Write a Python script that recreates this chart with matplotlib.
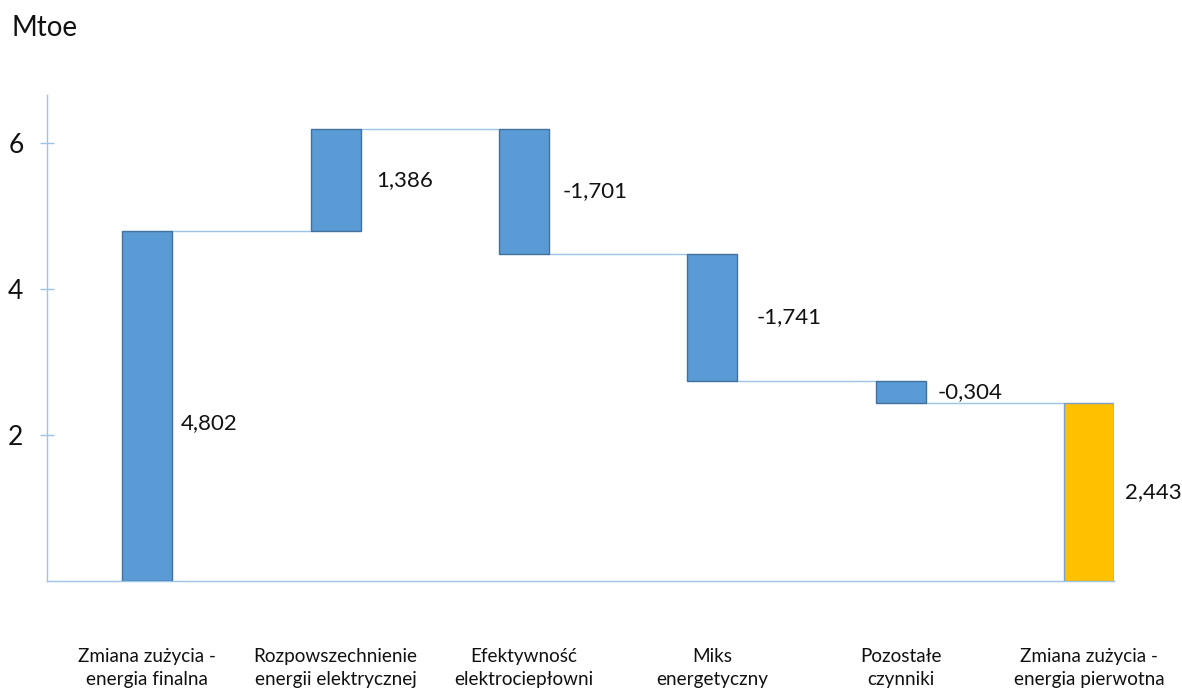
import matplotlib
matplotlib.use("Agg")
import matplotlib.pyplot as plt
import matplotlib.transforms as mtransforms

plt.rcParams['font.family'] = ['Lato', 'DejaVu Sans']

categories = [
    "Zmiana zużycia -\nenergia finalna",
    "Rozpowszechnienie\nenergii elektrycznej",
    "Efektywność\nelektrociepłowni",
    "Miks\nenergetyczny",
    "Pozostałe\nczynniki",
    "Zmiana zużycia -\nenergia pierwotna",
]
changes = [4.802, 1.386, -1.701, -1.741, -0.304]
total = 2.443
value_labels = ["4,802", "1,386", "-1,701", "-1,741", "-0,304", "2,443"]
yticks = [2, 4, 6]

BLUE = "#5B9BD5"
BLUE_EDGE = "#41719C"
GOLD = "#FFC000"
GOLD_EDGE = "#7F9FC8"
LINE = "#9DC3E6"

fig = plt.figure(figsize=(11.82, 6.88), dpi=100)
ax = fig.add_axes([47 / 1182, 107 / 688, 1067 / 1182, 486 / 688])

width = 0.266
x = list(range(len(categories)))

# running totals for the floating bars
bottoms, tops = [], []
level = 0.0
for c in changes:
    start, end = level, level + c
    bottoms.append(min(start, end))
    tops.append(max(start, end))
    level = end

heights = [t - b for t, b in zip(tops, bottoms)]
ax.bar(x[:5], heights, bottom=bottoms, width=width, color=BLUE,
       edgecolor=BLUE_EDGE, linewidth=1.0, zorder=3)
ax.bar(x[5], total, bottom=0, width=width, color=GOLD,
       edgecolor=GOLD_EDGE, linewidth=1.0, zorder=3)

# connector lines between consecutive bars
level = 0.0
for i, c in enumerate(changes):
    level += c
    ax.plot([x[i] + width / 2, x[i + 1] - width / 2], [level, level],
            color=LINE, linewidth=1.0, zorder=2)

# value labels beside each bar
label_frac = [0.45, 0.5, 0.5, 0.5, 0.5, 0.5]
all_bottoms = bottoms + [0.0]
all_heights = heights + [total]
offsets = [0.045, 0.085, 0.075, 0.105, 0.065, 0.06]
for i, txt in enumerate(value_labels):
    yv = all_bottoms[i] + all_heights[i] * label_frac[i]
    ax.text(x[i] + width / 2 + offsets[i], yv, txt, ha="left", va="center",
            fontsize=16, color="#111111", clip_on=False)

ax.set_xlim(-0.532, 5 + width / 2)
ax.set_ylim(0, 6.66)
ax.set_yticks(yticks)
ax.set_yticklabels([str(v) for v in yticks], fontsize=19)
ax.set_xticks([])

for s in ["top", "right"]:
    ax.spines[s].set_visible(False)
for s in ["left", "bottom"]:
    ax.spines[s].set_color(LINE)
    ax.spines[s].set_linewidth(1.0)
ax.tick_params(axis="y", direction="inout", length=10, width=1.0,
               color=LINE, pad=12, labelcolor="#111111")

# category names under the axis
trans = mtransforms.blended_transform_factory(ax.transData, fig.transFigure)
for i, name in enumerate(categories):
    ax.text(x[i], 1 - 648 / 688, name, transform=trans, ha="center", va="top",
            fontsize=13.6, linespacing=1.45, color="#111111", clip_on=False)

fig.text(12 / 1182, 1 - 15 / 688, "Mtoe", ha="left", va="top", fontsize=20,
         color="#111111")

fig.savefig("out.png", dpi=100)
